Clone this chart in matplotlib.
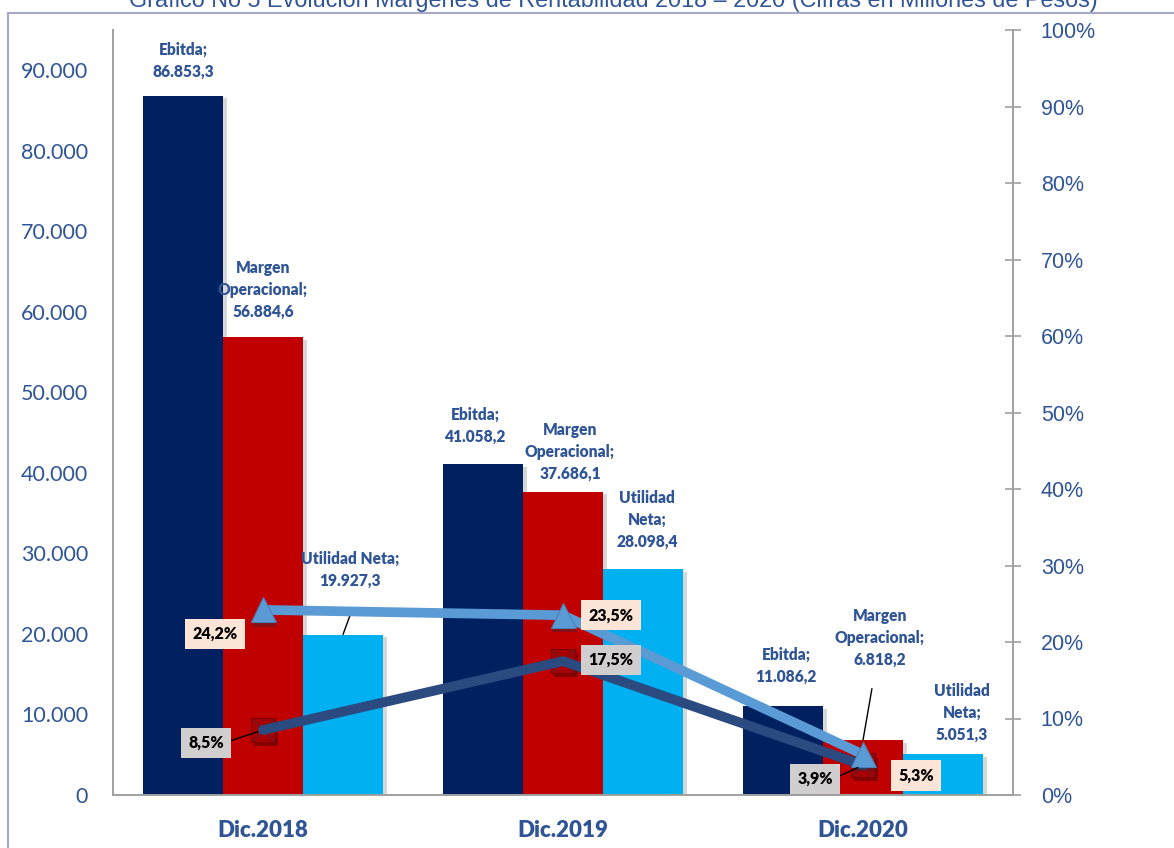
import matplotlib
matplotlib.use('Agg')
import matplotlib.pyplot as plt
import matplotlib.patheffects as pe
from matplotlib.patches import Rectangle
import numpy as np

# Datos (cifras en millones de pesos)
categories = ['Dic.2018', 'Dic.2019', 'Dic.2020']
ebitda = [86853.3, 41058.2, 11086.2]
margen_operacional = [56884.6, 37686.1, 6818.2]
utilidad_neta = [19927.3, 28098.4, 5051.3]
margen_ebitda_pct = [24.2, 23.5, 5.3]
margen_neto_pct = [8.5, 17.5, 3.9]

ebitda_names = ['Ebitda;', 'Ebitda;', 'Ebitda;']
margen_names = ['Margen\nOperacional;'] * 3
utilidad_names = ['Utilidad Neta;', 'Utilidad\nNeta;', 'Utilidad\nNeta;']

left_ticks = list(range(0, 90001, 10000))
right_ticks = [i / 10 for i in range(11)]

TXT = '#2F5597'
NAVY = '#002060'
RED = '#C00000'
CYAN = '#00B0F0'
LIGHT_LINE = '#5B9BD5'
DARK_LINE = '#2B4A80'


def miles(v, dec=1):
    s = f"{v:,.{dec}f}"
    return s.replace(',', 'X').replace('.', ',').replace('X', '.')


def pct(v):
    return f"{v:.1f}%".replace('.', ',')


fig = plt.figure(figsize=(11.74, 8.48), dpi=100)
W, H = 1174, 848
ax = fig.add_axes([113 / W, 53 / H, 900 / W, 765 / H])
ax2 = ax.twinx()

x = np.arange(len(categories))
bw = 80 / 300
shadow = [pe.SimplePatchShadow(offset=(3, -2), alpha=0.25, shadow_rgbFace='#606060'), pe.Normal()]

b1 = ax.bar(x - bw, ebitda, bw, color=NAVY, zorder=2)
b2 = ax.bar(x, margen_operacional, bw, color=RED, zorder=2)
b3 = ax.bar(x + bw, utilidad_neta, bw, color=CYAN, zorder=2)
for bars in (b1, b2, b3):
    for r in bars:
        r.set_path_effects(shadow)

ax.set_xlim(-0.5, 2.5)
ax.set_ylim(0, 95000)
ax.set_yticks(left_ticks)
ax.set_yticklabels([miles(v, 0) for v in left_ticks])
ax.tick_params(axis='y', length=0, pad=18, labelsize=15.5, labelcolor=TXT)
for t in ax.get_yticklabels():
    t.set_fontfamily('Lato')
ax.set_xticks(x)
ax.set_xticklabels(categories)
ax.tick_params(axis='x', length=0, pad=18, labelsize=16, labelcolor=TXT)
for t in ax.get_xticklabels():
    t.set_fontfamily('Lato')
    t.set_fontweight('heavy')

ax.spines['top'].set_visible(False)
ax2.spines['top'].set_visible(False)
for a in (ax, ax2):
    for sp in ('left', 'bottom', 'right'):
        a.spines[sp].set_color('#A0A0A0')
        a.spines[sp].set_linewidth(1.2)

ax2.set_ylim(0, 1)
ax2.set_yticks(right_ticks)
ax2.set_yticklabels([f"{int(round(v * 100))}%" for v in right_ticks])
ax2.tick_params(axis='y', direction='inout', length=12, width=1.2, color='#A0A0A0',
                pad=14, labelsize=15.5, labelcolor=TXT)
for t in ax2.get_yticklabels():
    t.set_fontfamily('Liberation Sans')

# Lineas de margenes
me = np.array(margen_ebitda_pct) / 100
mn = np.array(margen_neto_pct) / 100
ax2.plot(x, mn, 's', ms=17, mfc='#A80000', mec='#7A0000', mew=0.8, zorder=3,
         path_effects=[pe.SimplePatchShadow(offset=(2, -3), alpha=0.4), pe.Normal()])
ax2.plot(x, mn, 'x', ms=16, color='#5A2030', mew=0.8, zorder=3)
ax2.plot(x, mn, '-', lw=7, color=DARK_LINE, solid_capstyle='round', zorder=4)
ax2.plot(x, me, '-', lw=7, color=LIGHT_LINE, solid_capstyle='butt', zorder=5)
ax2.plot(x, me, '^', ms=18, color=LIGHT_LINE, mec='#4A80BA', mew=0.8, zorder=6,
         path_effects=[pe.SimplePatchShadow(offset=(1, -3), alpha=0.35), pe.Normal()])

# Etiquetas de las lineas (offsets en pixeles)
light_off = [(-48, -24), (48, 0), (53, -21)]
dark_off = [(-57, -13), (48, 1), (-48, -14)]
for i in range(len(categories)):
    ax2.annotate(pct(margen_ebitda_pct[i]), (x[i], me[i]), xytext=light_off[i],
                 textcoords='offset pixels', ha='center', va='center',
                 fontsize=11.5, fontweight='heavy', family='Lato', color='black', zorder=8,
                 bbox=dict(boxstyle='square,pad=0.45', fc='#FCE4D6', ec='none'))
    arrow = None
    if i != 1:
        arrow = dict(arrowstyle='-', color='black', lw=1, shrinkA=0, shrinkB=4,
                     relpos=(1, 0.5))
    ax2.annotate(pct(margen_neto_pct[i]), (x[i], mn[i]), xytext=dark_off[i],
                 textcoords='offset pixels', ha='center', va='center',
                 fontsize=11.5, fontweight='heavy', family='Lato', color='black', zorder=8,
                 bbox=dict(boxstyle='square,pad=0.45', fc='#D0CECE', ec='none'),
                 arrowprops=arrow)

# Etiquetas de las barras
series = [
    (x - bw, ebitda, ebitda_names, [(0, 16), (-8, 20), (3, 21)]),
    (x, margen_operacional, margen_names, [(0, 17), (7, 10), (17, 72)]),
    (x + bw, utilidad_neta, utilidad_names, [(7, 46), (4, 19), (19, 12)]),
]
for si, (xs, vals, names, offs) in enumerate(series):
    for i in range(len(categories)):
        lbl = f"{names[i]}\n{miles(vals[i])}"
        arrow = None
        if (si == 2 and i == 0) or (si == 1 and i == 2):
            arrow = dict(arrowstyle='-', color='black', lw=1, shrinkA=13, shrinkB=0,
                         relpos=(0.6 if si == 2 else 0.45, 0))
        ax.annotate(lbl, (xs[i], vals[i]), xytext=offs[i], textcoords='offset pixels',
                    ha='center', va='bottom', fontsize=11.2, fontweight='heavy',
                    family='Lato', color=TXT, linespacing=1.45, zorder=7,
                    annotation_clip=False, arrowprops=arrow)

# Titulo (cortado en la parte superior, como en el original)
fig.text(613 / W, 1 - 7 / H, 'Gráfico No 5 Evolución Márgenes de Rentabilidad 2018 – 2020 (Cifras en Millones de Pesos)',
         ha='center', va='baseline', fontsize=16.8, color=TXT, family='Liberation Sans')

# Marco exterior
fig.add_artist(Rectangle((8 / W, -0.1), 1.2, 1.1 - 13 / H, transform=fig.transFigure,
                         fill=False, edgecolor='#A8A8C8', lw=1.5))

fig.savefig('out.png', dpi=100)
plt.close(fig)
